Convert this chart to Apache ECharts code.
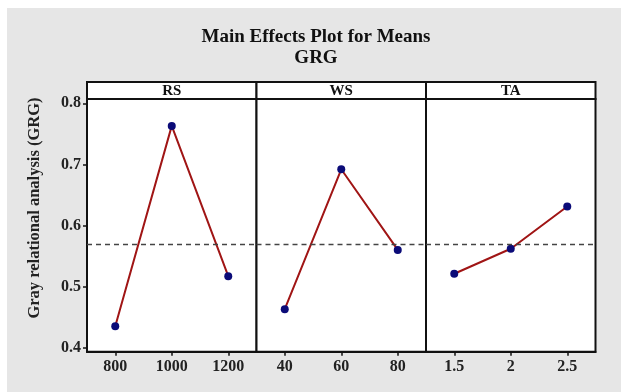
<!DOCTYPE html>
<html>
<head>
<meta charset="utf-8">
<script src="https://cdn.jsdelivr.net/npm/echarts@6/dist/echarts.min.js"></script>
<style>
  html, body { margin: 0; padding: 0; background: #ffffff; }
  #chart { width: 621px; height: 392px; }
</style>
</head>
<body>
<div id="chart"></div>
<script>
// ---- data ----
const factorNames = ['RS', 'WS', 'TA'];
const categoriesRS = ['800', '1000', '1200'];
const categoriesWS = ['40', '60', '80'];
const categoriesTA = ['1.5', '2', '2.5'];
const valuesRS = [0.435, 0.763, 0.517];
const valuesWS = [0.463, 0.692, 0.560];
const valuesTA = [0.521, 0.562, 0.631];
const meanGRG = 0.5717;
const yTickLabels = [0.4, 0.5, 0.6, 0.7, 0.8];
const titleLines = ['Main Effects Plot for Means', 'GRG'];
const yAxisName = 'Gray relational analysis (GRG)';

// ---- layout ----
const W = 621, H = 392;
const panelLeft = [87, 256.5, 426];
const panelWidth = 169.5;
const gridTop = 99;
const gridBottomY = 351.7;
const headerTop = 82;
const yMin = 0.3935, yMax = 0.807;
const serif = '"Liberation Serif", "Times New Roman", serif';

const cats = [categoriesRS, categoriesWS, categoriesTA];
const vals = [valuesRS, valuesWS, valuesTA];

const grids = [], xAxes = [], yAxes = [], series = [], graphics = [];

graphics.push({
  type: 'rect', z: -10, silent: true,
  shape: { x: 7, y: 8, width: W - 7, height: H - 8 },
  style: { fill: '#e6e6e6' }
});
titleLines.forEach((t, i) => {
  graphics.push({
    type: 'text', x: 316, y: 37 + i * 21, silent: true,
    style: { text: t, fill: '#111', font: 'bold 19px ' + serif, textAlign: 'center', textVerticalAlign: 'middle' }
  });
});
graphics.push({
  type: 'text', x: 35, y: 208, rotation: Math.PI / 2, silent: true,
  style: { text: yAxisName, fill: '#222', font: 'bold 16.5px ' + serif, textAlign: 'center', textVerticalAlign: 'middle' }
});

for (let i = 0; i < 3; i++) {
  grids.push({
    left: panelLeft[i], width: panelWidth,
    top: gridTop, height: gridBottomY - gridTop,
    show: true, backgroundColor: '#ffffff', borderColor: '#111', borderWidth: 2,
    containLabel: false
  });
  xAxes.push({
    type: 'category', gridIndex: i, data: cats[i], boundaryGap: true,
    axisLine: { show: true, lineStyle: { color: '#111', width: 2 } },
    axisTick: { show: true, alignWithLabel: true, length: 4, lineStyle: { color: '#111', width: 1.5 } },
    axisLabel: { color: '#222', fontFamily: serif, fontWeight: 'bold', fontSize: 16, margin: 7 },
    splitLine: { show: false }
  });
  yAxes.push({
    type: 'value', gridIndex: i, min: yMin, max: yMax,
    axisLine: { show: i === 0, lineStyle: { color: '#111', width: 2 } },
    axisTick: { show: i === 0, length: 4, customValues: yTickLabels, lineStyle: { color: '#111', width: 1.5 } },
    axisLabel: {
      show: i === 0, customValues: yTickLabels, margin: 6,
      formatter: v => Number(v).toFixed(1),
      color: '#222', fontFamily: serif, fontWeight: 'bold', fontSize: 16
    },
    splitLine: { show: false }
  });
  series.push({
    type: 'line', xAxisIndex: i, yAxisIndex: i, data: vals[i],
    symbol: 'circle', symbolSize: 8,
    itemStyle: { color: '#0b0b78' },
    lineStyle: { color: '#a01515', width: 2 },
    z: 3,
    markLine: {
      silent: true, symbol: 'none', animation: false,
      label: { show: false },
      lineStyle: { color: '#444', type: [5, 4], width: 1.3 },
      data: [{ yAxis: meanGRG }]
    }
  });
  graphics.push({
    type: 'rect', silent: true,
    shape: { x: panelLeft[i], y: headerTop, width: panelWidth, height: gridTop - headerTop },
    style: { fill: '#ffffff', stroke: '#111', lineWidth: 2 }
  });
  graphics.push({
    type: 'text', silent: true,
    x: panelLeft[i] + panelWidth / 2, y: (headerTop + gridTop) / 2 + 1,
    style: { text: factorNames[i], fill: '#111', font: 'bold 15px ' + serif, textAlign: 'center', textVerticalAlign: 'middle' }
  });
}

const chart = echarts.init(document.getElementById('chart'), null, { renderer: 'canvas' });
chart.setOption({
  animation: false,
  backgroundColor: '#ffffff',
  grid: grids,
  xAxis: xAxes,
  yAxis: yAxes,
  series: series,
  graphic: graphics
});
</script>
</body>
</html>
